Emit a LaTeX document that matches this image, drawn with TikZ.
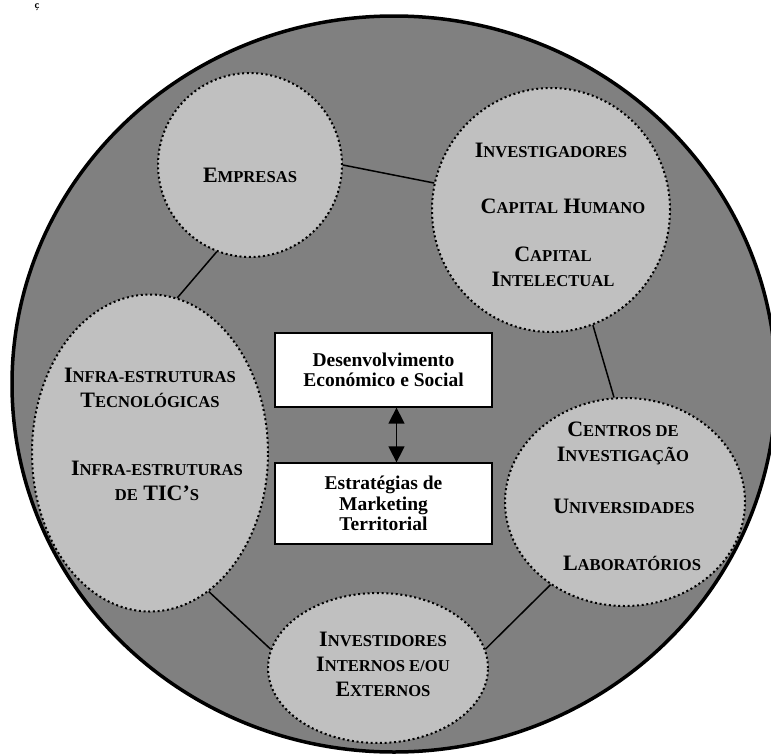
\documentclass[tikz,border=0pt]{standalone}
\usepackage{fontspec}
\setmainfont{Liberation Serif}
\usetikzlibrary{
  arrows.meta,
  shapes.geometric,
}
\definecolor{ringgray}{HTML}{808080}
\definecolor{hubgray}{HTML}{C0C0C0}
% capitals with faked small caps
\newcommand\capfont{\fontsize{22}{25}\selectfont\bfseries}
\newcommand\smc[1]{{\fontsize{16.6}{16.6}\selectfont #1}}

\begin{document}
\begin{tikzpicture}[x=1pt, y=-1pt,
  ring/.style={ellipse, draw, fill=ringgray, line width=3.5pt, inner sep=0pt},
  hub/.style={ellipse, draw, fill=hubgray, line width=2pt,
    dash pattern=on 2pt off 2.7pt, inner sep=0pt},
  hubtext/.style={font=\capfont, align=center, inner sep=0pt},
  goal/.style={draw, fill=white, line width=1.3pt, minimum width=217pt,
    align=center, inner sep=0pt, font={\fontsize{19.5}{20.5}\selectfont\bfseries}},
  link/.style={line width=1.5pt},
]
  \useasboundingbox (0,0) rectangle (771,755);
  % caption remnant
  \node[font={\sffamily\bfseries\fontsize{10}{10}\selectfont}, anchor=north, inner sep=0pt]
    (capfrag) at (37,4) {ç};
  % territory
  \node[ring, minimum width=764pt, minimum height=736pt] (region) at (394,384) {};
  % actors
  \node[hub, minimum width=184pt, minimum height=184pt] (firms) at (250,165) {};
  \node[hub, minimum width=238pt, minimum height=244pt] (research) at (551,210) {};
  \node[hub, minimum width=236pt, minimum height=317pt] (infra) at (150,453) {};
  \node[hub, minimum width=240pt, minimum height=208pt] (centres) at (625,502) {};
  \node[hub, minimum width=220pt, minimum height=150pt] (investors) at (378,668) {};
  % links between actors
  \draw[link] (firms.0) -- (research.167);
  \draw[link] (firms.249) -- (infra.80);
  \draw[link] (research.290) -- (centres.96);
  \draw[link] (centres.228) -- (investors.10);
  \draw[link] (infra.293) -- (investors.170);
  % labels
  \node[hubtext] (firmsname) at (250,175) {E\smc{MPRESAS}};
  \node[hubtext] (researchers) at (551,150) {I\smc{NVESTIGADORES}};
  \node[hubtext] (human) at (563,206) {C\smc{APITAL} H\smc{UMANO}};
  \node[hubtext] (intellect) at (553,267) {C\smc{APITAL}\\I\smc{NTELECTUAL}};
  \node[hubtext] (techinfra) at (150,388) {I\smc{NFRA-ESTRUTURAS}\\T\smc{ECNOLÓGICAS}};
  \node[hubtext] (ictinfra) at (157,481) {I\smc{NFRA-ESTRUTURAS}\\\smc{DE} TIC’\smc{S}};
  \node[hubtext] (rdcentres) at (623,443) {C\smc{ENTROS DE}\\I\smc{NVESTIGAÇÃO}};
  \node[hubtext] (unis) at (624,506) {U\smc{NIVERSIDADES}};
  \node[hubtext] (labs) at (632,563) {L\smc{ABORATÓRIOS}};
  \node[hubtext] (investorsname) at (383,664)
    {I\smc{NVESTIDORES}\\I\smc{NTERNOS E/OU}\\E\smc{XTERNOS}};
  % centre boxes
  \node[goal, minimum height=74pt] (growth) at (383.5,370) {Desenvolvimento\\Económico e Social};
  \node[goal, minimum height=81pt] (strategy) at (383.5,503.5) {Estratégias de\\Marketing\\Territorial};
  \draw[link, {Triangle[width=16pt,length=16pt]}-{Triangle[width=16pt,length=16pt]}]
    ([xshift=13pt]growth.south) -- ([xshift=13pt]strategy.north);
\end{tikzpicture}
\end{document}
